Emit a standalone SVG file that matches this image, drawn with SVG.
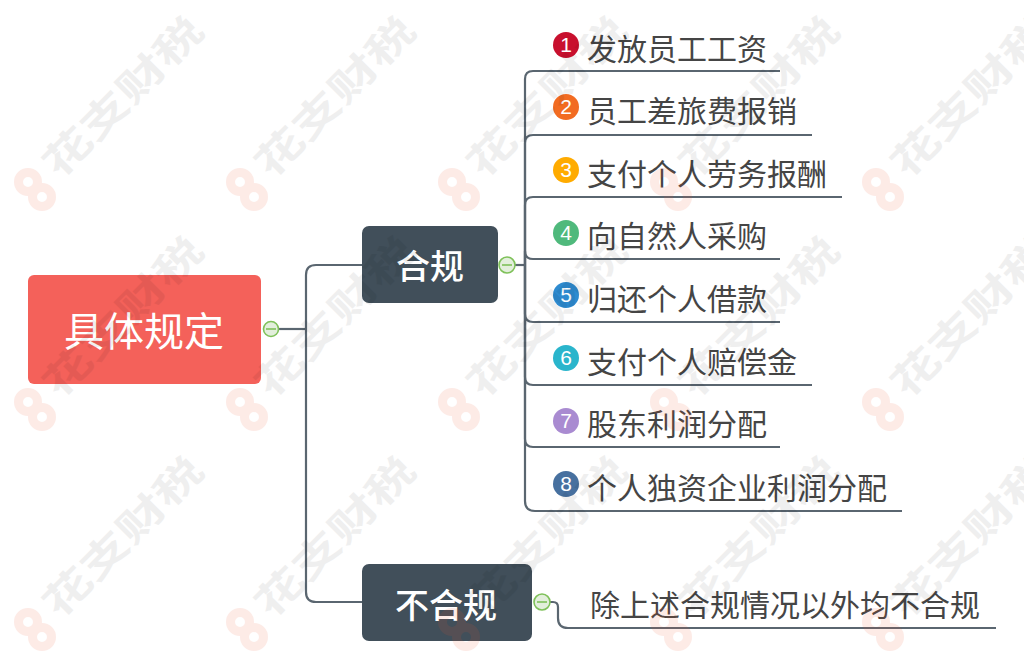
<svg xmlns="http://www.w3.org/2000/svg" xmlns:xlink="http://www.w3.org/1999/xlink" width="1024" height="658" viewBox="0 0 1024 658">
<style>
text{font-family:"Noto Sans CJK SC","Noto Sans",sans-serif}
.c{fill:none;stroke:#5a6670;stroke-width:2.2}
.lf{font-size:30px;fill:#454545}
.nm{fill:#fff;text-anchor:middle;font-family:"Liberation Sans",sans-serif;font-size:21px}
.tp{fill:#fff;text-anchor:middle;font-weight:500}
.col{fill:#e3efdc;stroke:#7fc15a;stroke-width:1.6}
.dash{stroke:#7fc15a;stroke-width:1.6}
.wt{font-size:40px;font-weight:700;fill:#000;opacity:.06}
.wr{fill:none;stroke:#f4502a;stroke-width:9}
</style>
<defs>
<g id="wm">
<g opacity=".11">
<circle class="wr" cx="28" cy="182" r="9.5"/>
<circle class="wr" cx="42" cy="197" r="9.5"/>
</g>
<text class="wt" transform="translate(59 180) rotate(-45) scale(1.3 .95)">花支财税</text>
</g>
</defs>
<rect width="1024" height="658" fill="#fff"/>
<g id="connectors">
<path class="c" d="M278 329H306"/>
<path class="c" d="M362 265H316Q306 265 306 275V592Q306 602 316 602H362"/>
<path class="c" d="M515 265H525"/>
<path class="c" d="M525 265V79Q525 71 533 71H780"/>
<path class="c" d="M525 265V143Q525 135 533 135H812"/>
<path class="c" d="M525 265V205Q525 197 533 197H842"/>
<path class="c" d="M525 265V251Q525 259 533 259H780"/>
<path class="c" d="M525 265V314Q525 322 533 322H780"/>
<path class="c" d="M525 265V377Q525 385 533 385H812"/>
<path class="c" d="M525 265V439Q525 447 533 447H780"/>
<path class="c" d="M525 265V501Q525 511 535 511H902"/>
<path class="c" d="M550 602H553Q558 602 558 607V618Q558 628 568 628H996"/>
</g>
<g id="root"><rect x="28" y="275" width="233" height="109" rx="6" fill="#f4615a"/><text class="tp" x="144" y="346" font-size="40" style="font-weight:400">具体规定</text></g>
<g id="root-toggle"><circle class="col" cx="271" cy="329" r="7.5"/><path class="dash" d="M266 329H276"/></g>
<g id="n-heg"><rect x="362" y="226" width="136" height="77" rx="7" fill="#414f5a"/><text class="tp" x="430" y="279" font-size="34">合规</text></g>
<g id="heg-toggle"><circle class="col" cx="507" cy="265" r="8"/><path class="dash" d="M502 265H512"/></g>
<g id="n-buheg"><rect x="362" y="564" width="170" height="77" rx="7" fill="#414f5a"/><text class="tp" x="446" y="618" font-size="34">不合规</text></g>
<g id="buheg-toggle"><circle class="col" cx="542" cy="602" r="8"/><path class="dash" d="M537 602H547"/></g>
<g id="l1"><circle cx="566" cy="45" r="13" fill="#c8102e"/><text class="nm" x="566" y="52">1</text><text class="lf" x="587" y="60">发放员工工资</text></g>
<g id="l2"><circle cx="566" cy="107" r="13" fill="#f26b21"/><text class="nm" x="566" y="114">2</text><text class="lf" x="587" y="122">员工差旅费报销</text></g>
<g id="l3"><circle cx="566" cy="170" r="13" fill="#ffab00"/><text class="nm" x="566" y="177">3</text><text class="lf" x="587" y="185">支付个人劳务报酬</text></g>
<g id="l4"><circle cx="566" cy="233" r="13" fill="#4fb97c"/><text class="nm" x="566" y="240">4</text><text class="lf" x="587" y="247">向自然人采购</text></g>
<g id="l5"><circle cx="566" cy="295" r="13" fill="#2e8bd0"/><text class="nm" x="566" y="302">5</text><text class="lf" x="587" y="310">归还个人借款</text></g>
<g id="l6"><circle cx="566" cy="358" r="13" fill="#2ab5cc"/><text class="nm" x="566" y="365">6</text><text class="lf" x="587" y="373">支付个人赔偿金</text></g>
<g id="l7"><circle cx="566" cy="421" r="13" fill="#a98bd1"/><text class="nm" x="566" y="428">7</text><text class="lf" x="587" y="435">股东利润分配</text></g>
<g id="l8"><circle cx="566" cy="484" r="13" fill="#47709f"/><text class="nm" x="566" y="491">8</text><text class="lf" x="587" y="499">个人独资企业利润分配</text></g>
<g id="l9"><text class="lf" x="590" y="616">除上述合规情况以外均不合规</text></g>
<g id="watermark">
<use href="#wm"/>
<use href="#wm" x="212"/><use href="#wm" x="424"/><use href="#wm" x="636"/><use href="#wm" x="848"/>
<use href="#wm" y="220"/><use href="#wm" x="212" y="220"/><use href="#wm" x="424" y="220"/><use href="#wm" x="636" y="220"/><use href="#wm" x="848" y="220"/>
<use href="#wm" y="440"/><use href="#wm" x="212" y="440"/><use href="#wm" x="424" y="440"/><use href="#wm" x="636" y="440"/><use href="#wm" x="848" y="440"/>
</g>
</svg>
